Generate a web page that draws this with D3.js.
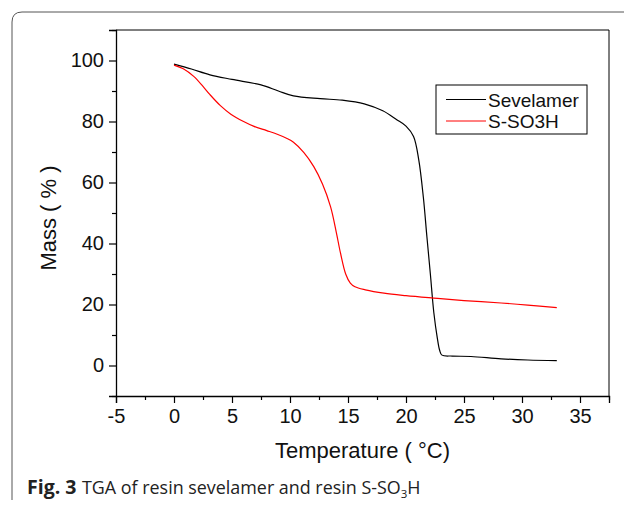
<!DOCTYPE html>
<html>
<head>
<meta charset="utf-8">
<script src="https://cdn.jsdelivr.net/npm/d3@7"></script>
<style>
  body { margin: 0; background: #fff; }
  svg { display: block; }
</style>
</head>
<body>
<svg id="chart" width="624" height="505"></svg>
<script>
// Sevelamer curve (temperature, mass %)
let sevTemp = [0, 1.5, 3.1, 5, 7.5, 9, 10.3, 12.6, 14.5, 16.4, 18, 19.2, 20, 20.65, 21.1, 21.5, 21.8, 22.1, 22.4, 22.7, 22.9, 23.1, 24, 25.6, 28.2, 30.5, 33];
let sevMass = [98.8, 97.2, 95.3, 93.8, 92, 90, 88.4, 87.5, 87, 85.8, 83.5, 80.6, 78.5, 75.1, 67.4, 55, 42.3, 30, 17.3, 9, 5, 3.4, 3.1, 2.95, 2.2, 1.8, 1.6];

// S-SO3H curve
let redTemp = [0, 0.8, 1.7, 2.5, 3.1, 4, 4.9, 6, 6.9, 8, 8.9, 9.7, 10.3, 11.2, 12.05, 12.8, 13.5, 14, 14.35, 14.8, 15.2, 15.6, 16.5, 18.1, 20, 22.4, 25, 28.2, 30.5, 33];
let redMass = [98.5, 97.3, 94.8, 91.5, 88.8, 85.2, 82.4, 80, 78.4, 77, 75.8, 74.5, 73.2, 69.8, 65.2, 59.5, 52, 43.5, 36.9, 30, 27, 25.8, 24.8, 23.7, 22.9, 22.1, 21.3, 20.5, 19.8, 19];

let xMajor = [-5, 0, 5, 10, 15, 20, 25, 30, 35];
let xMinor = [-2.5, 2.5, 7.5, 12.5, 17.5, 22.5, 27.5, 32.5, 37.5];
let yMajor = [0, 20, 40, 60, 80, 100];
let yMinor = [-10, 10, 30, 50, 70, 90, 110];

let seriesNames = ["Sevelamer", "S-SO3H"];
let seriesColors = ["#000000", "#ff0000"];

let font = "Arial, 'Liberation Sans', Helvetica, sans-serif";

let svg = d3.select("#chart");
let plotL = 116, plotR = 609, plotT = 30, plotB = 396;

let x = d3.scaleLinear().domain([-5, 37.5]).range([plotL, plotR]);
let y = d3.scaleLinear().domain([-10, 110]).range([plotB, plotT]);

// figure frame (rounded, open on the right/bottom)
svg.append("path")
    .attr("d", "M12,500 L12,22 Q12,12 22,12 L624,12")
    .attr("fill", "none")
    .attr("stroke", "#555")
    .attr("stroke-width", 1);

// plot box top and right
svg.append("path")
    .attr("d", `M${plotL},${plotT} L${plotR},${plotT} L${plotR},${plotB}`)
    .attr("fill", "none")
    .attr("stroke", "#000")
    .attr("stroke-width", 1);

// x axis
svg.append("g")
    .attr("transform", `translate(0,${plotB})`)
    .call(d3.axisBottom(x).tickValues(xMajor).tickSize(7).tickPadding(6).tickFormat(d => String(d)));
svg.append("g")
    .attr("transform", `translate(0,${plotB})`)
    .call(d3.axisBottom(x).tickValues(xMinor).tickSize(4).tickFormat(""))
    .select(".domain").remove();

// y axis
svg.append("g")
    .attr("transform", `translate(${plotL},0)`)
    .call(d3.axisLeft(y).tickValues(yMajor).tickSize(7).tickPadding(5).tickFormat(d => String(d)));
svg.append("g")
    .attr("transform", `translate(${plotL},0)`)
    .call(d3.axisLeft(y).tickValues(yMinor).tickSize(4).tickFormat(""))
    .select(".domain").remove();

svg.selectAll(".domain").attr("stroke", "#000").attr("stroke-width", 1.3);
svg.selectAll(".tick line").attr("stroke", "#000").attr("stroke-width", 1.2);
svg.selectAll(".tick text")
    .attr("fill", "#111")
    .attr("font-family", null)
    .style("font-family", font)
    .style("font-size", "20px");

// axis titles
svg.append("text")
    .attr("x", (plotL + plotR) / 2)
    .attr("y", 458)
    .attr("text-anchor", "middle")
    .style("font-family", font)
    .style("font-size", "22px")
    .attr("fill", "#111")
    .text("Temperature ( °C)");

svg.append("text")
    .attr("transform", "translate(56,218) rotate(-90)")
    .attr("text-anchor", "middle")
    .style("font-family", font)
    .style("font-size", "22px")
    .attr("fill", "#111")
    .text("Mass ( % )");

// curves
let line = d3.line()
    .x(d => x(d[0]))
    .y(d => y(d[1]))
    .curve(d3.curveCatmullRom.alpha(0.5));

let sevData = sevTemp.map((t, i) => [t, sevMass[i]]);
let redData = redTemp.map((t, i) => [t, redMass[i]]);

svg.append("path")
    .datum(sevData)
    .attr("d", line)
    .attr("fill", "none")
    .attr("stroke", seriesColors[0])
    .attr("stroke-width", 1.2);

svg.append("path")
    .datum(redData)
    .attr("d", line)
    .attr("fill", "none")
    .attr("stroke", seriesColors[1])
    .attr("stroke-width", 1.2);

// legend
let legend = svg.append("g");
legend.append("rect")
    .attr("x", 436).attr("y", 85)
    .attr("width", 151).attr("height", 49)
    .attr("fill", "#fff")
    .attr("stroke", "#000")
    .attr("stroke-width", 1);

seriesNames.forEach(function(name, i) {
    let ly = 99.5 + i * 21.5;
    legend.append("line")
        .attr("x1", 446).attr("x2", 486)
        .attr("y1", ly).attr("y2", ly)
        .attr("stroke", seriesColors[i])
        .attr("stroke-width", 1);
    legend.append("text")
        .attr("x", 488).attr("y", ly + 7)
        .style("font-family", font)
        .style("font-size", "19px")
        .attr("fill", "#111")
        .text(name);
});

// caption
let cap = svg.append("text")
    .attr("x", 27).attr("y", 494)
    .style("font-family", "'Open Sans', 'Noto Sans', sans-serif")
    .style("font-size", "17.9px")
    .attr("fill", "#222");
cap.append("tspan").attr("font-weight", "bold").style("font-size", "19.5px").text("Fig. 3");
cap.append("tspan").attr("x", 82).text("TGA of resin sevelamer and resin S-SO");
cap.append("tspan").attr("dy", 4).style("font-size", "11.5px").text("3");
cap.append("tspan").attr("dy", -4).text("H");
</script>
</body>
</html>
